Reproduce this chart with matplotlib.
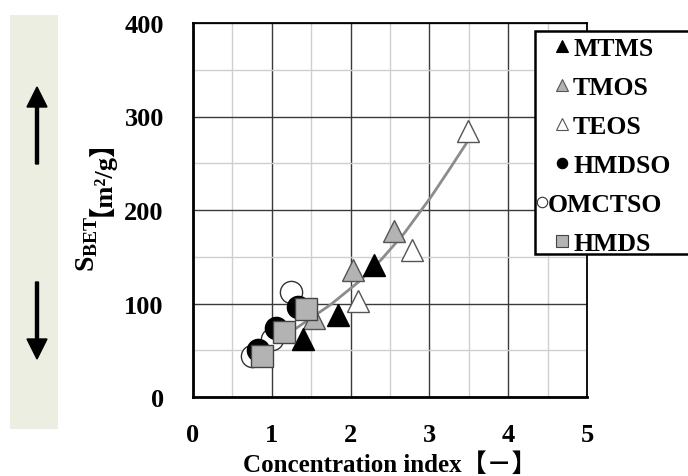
import matplotlib
matplotlib.use('Agg')
import matplotlib.pyplot as plt
from matplotlib.patches import Rectangle, FancyArrow
from matplotlib.lines import Line2D

# Values
x_mtms = [1.39, 1.84, 2.30]
y_mtms = [62, 88, 141]
x_tmos = [1.53, 2.03, 2.55]
y_tmos = [85, 136, 178]
x_teos = [2.09, 2.78, 3.49]
y_teos = [103, 157, 284]
x_hmdso = [0.82, 1.05, 1.33]
y_hmdso = [50, 74, 96]
x_omctso = [0.75, 1.00, 1.24]
y_omctso = [44, 62, 112]
x_hmds = [0.88, 1.15, 1.44]
y_hmds = [44, 70, 94]

# trend curve, points
trend_x = [0.80, 1.05, 1.30, 1.75, 2.10, 2.39, 2.68, 3.02, 3.25, 3.49]
trend_y = [47, 60, 73, 99, 123, 147, 175, 214, 243, 274]

x_ticks = [0, 1, 2, 3, 4, 5]
y_ticks = [0, 100, 200, 300, 400]

serif = ['Liberation Serif', 'Noto Sans CJK JP']
plt.rcParams['font.family'] = serif
plt.rcParams['font.weight'] = 'bold'
plt.rcParams['axes.labelweight'] = 'bold'
plt.rcParams['mathtext.fontset'] = 'custom'
plt.rcParams['mathtext.rm'] = 'Liberation Serif:bold'
plt.rcParams['mathtext.it'] = 'Liberation Serif:bold'
plt.rcParams['mathtext.bf'] = 'Liberation Serif:bold'

W, H = 688, 477
fig = plt.figure(figsize=(W / 100, H / 100), dpi=100)
ax = fig.add_axes([193 / W, 79 / H, 394 / W, 374 / H])

# grid
ax.set_xlim(0, 5)
ax.set_ylim(0, 400)
ax.set_xticks(x_ticks)
ax.set_yticks(y_ticks)
ax.set_xticks([0.5, 1.5, 2.5, 3.5, 4.5], minor=True)
ax.set_yticks([50, 150, 250, 350], minor=True)
ax.grid(which='major', color='#3a3a3a', lw=1.0, zorder=0)
ax.grid(which='minor', color='#cfcfcf', lw=1.0, zorder=0)
ax.set_axisbelow(True)
ax.tick_params(which='both', length=0)
ax.tick_params(axis='x', pad=19, labelsize=19)
ax.tick_params(axis='y', pad=21, labelsize=19)
for s in ax.spines.values():
    s.set_linewidth(1.3)
ax.spines['left'].set_linewidth(2)
ax.spines['bottom'].set_linewidth(2)

ax.plot(trend_x, trend_y, color='#8c8c8c', lw=2, zorder=2)

# series: (label, x, y, marker, face, edge, zorder)
series = [
    ('MTMS', x_mtms, y_mtms, '^', 'black', 'black', 4),
    ('TMOS', x_tmos, y_tmos, '^', '#b3b3b3', '#555555', 3),
    ('TEOS', x_teos, y_teos, '^', 'white', '#555555', 3),
    ('HMDSO', x_hmdso, y_hmdso, 'o', 'black', 'black', 4),
    ('OMCTSO', x_omctso, y_omctso, 'o', 'white', '#333333', 3),
    ('HMDS', x_hmds, y_hmds, 's', '#b3b3b3', '#444444', 5),
]
for lab, xs, ys, mk, fc, ec, z in series:
    ax.plot(xs, ys, mk, ms=16, mfc=fc, mec=ec, mew=1, label=lab, zorder=z)

# legend box drawn by hand (Excel squeezes the long OMCTSO entry to the left)
fig.add_artist(Rectangle((535 / W, (H - 255) / H), 200 / W, 223 / H,
                         transform=fig.transFigure, facecolor='white',
                         edgecolor='black', lw=1.8, zorder=10))
for i, (lab, xs, ys, mk, fc, ec, z) in enumerate(series):
    yy = (H - (47 + 39 * i)) / H
    mx, tx = (542, 548) if lab == 'OMCTSO' else (562, 573)
    fig.add_artist(Line2D([mx / W], [yy], marker=mk, ms=8 if mk != 'o' else 7.5,
                          mfc=fc, mec=ec, mew=0.8, transform=fig.transFigure,
                          zorder=11))
    fig.text(tx / W, yy, lab, fontsize=18.5, ha='left', va='center_baseline',
             zorder=11)

ax.set_xlabel('Concentration index【－】', fontsize=18, labelpad=4)

# y label in two pieces (subscript + CJK brackets)
ylab = fig.text(87 / W, (H - 272) / H, r'$\mathrm{S}_{\mathrm{BET}}$', fontsize=20,
                rotation=90, ha='center', va='bottom')
ax.annotate('【m²/g】', xy=(0.5, 1.0), xycoords=ylab, fontsize=19, rotation=90,
            ha='center', va='bottom', annotation_clip=False)

# left side panel with arrows
fig.patches.append(Rectangle((10 / W, 47 / H), 48 / W, 414 / H,
                             transform=fig.transFigure, facecolor='#ebeee0',
                             edgecolor='none'))
fig.patches.append(FancyArrow(37 / W, 312 / H, 0, 77 / H, width=3 / W,
                              head_width=20 / W, head_length=20 / H,
                              length_includes_head=True, color='black',
                              transform=fig.transFigure))
fig.patches.append(FancyArrow(37 / W, 194 / H, 0, -77 / H, width=3 / W,
                              head_width=20 / W, head_length=20 / H,
                              length_includes_head=True, color='black',
                              transform=fig.transFigure))

fig.savefig('out.png', dpi=100)
